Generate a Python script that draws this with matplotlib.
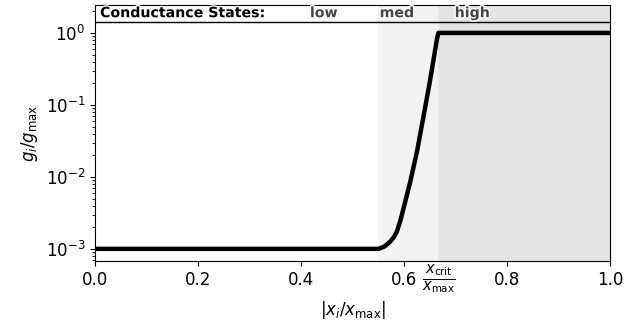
import matplotlib
matplotlib.use("Agg")
import matplotlib.pyplot as plt
import matplotlib.patheffects as pe

# conductance curve
x_pos = [0.0, 0.55, 0.562, 0.573, 0.580, 0.586, 0.593, 0.599, 0.612, 0.625,
         0.637, 0.650, 0.664, 0.6667, 1.0]
g_rel = [1e-3, 1e-3, 1.08e-3, 1.26e-3, 1.45e-3, 1.74e-3, 2.5e-3, 3.67e-3,
         8.6e-3, 2.24e-2, 6.5e-2, 0.211, 0.84, 1.0, 1.0]

# state boundaries
x_med = 0.55
x_crit = 2 / 3
states = ["low", "med", "high"]
state_x = [0.444, 0.586, 0.732]

fig = plt.figure(figsize=(6.41, 3.27), dpi=100)
ax = fig.add_axes([0.148, 0.202, 0.804, 0.783])

ax.axvspan(x_med, x_crit, color="#f2f2f2", lw=0, zorder=0)
ax.axvspan(x_crit, 1.0, color="#e4e4e4", lw=0, zorder=0)

ax.plot(x_pos, g_rel, color="black", lw=3.2, zorder=3)

ax.set_yscale("log")
ax.set_xlim(0, 1)
ax.set_ylim(6.8e-4, 2.45)

# header band
ax.axhline(1.42, color="black", lw=1.0, zorder=4)
outline = [pe.withStroke(linewidth=2, foreground="white")]
ax.text(0.01, 1.88, "Conductance States:", fontsize=10.2, fontweight="bold",
        va="center", ha="left", path_effects=outline, zorder=5)
for name, sx in zip(states, state_x):
    ax.text(sx, 1.88, name, fontsize=10.2, fontweight="bold", color="#444444",
            va="center", ha="center", path_effects=outline, zorder=5)

ax.set_xticks([0.0, 0.2, 0.4, 0.6, 0.8, 1.0])
ax.set_xticks([x_crit], minor=True)
ax.set_xticklabels([r"$\frac{x_\mathrm{crit}}{x_\mathrm{max}}$"], minor=True, fontsize=15)
ax.tick_params(axis="x", which="minor", length=0, pad=1)
ax.tick_params(axis="both", which="major", labelsize=12)

ax.set_xlabel(r"$|x_i/x_\mathrm{max}|$", fontsize=12, labelpad=2)
ax.set_ylabel(r"$g_i/g_\mathrm{max}$", fontsize=12)

fig.savefig("out.png", dpi=100)
